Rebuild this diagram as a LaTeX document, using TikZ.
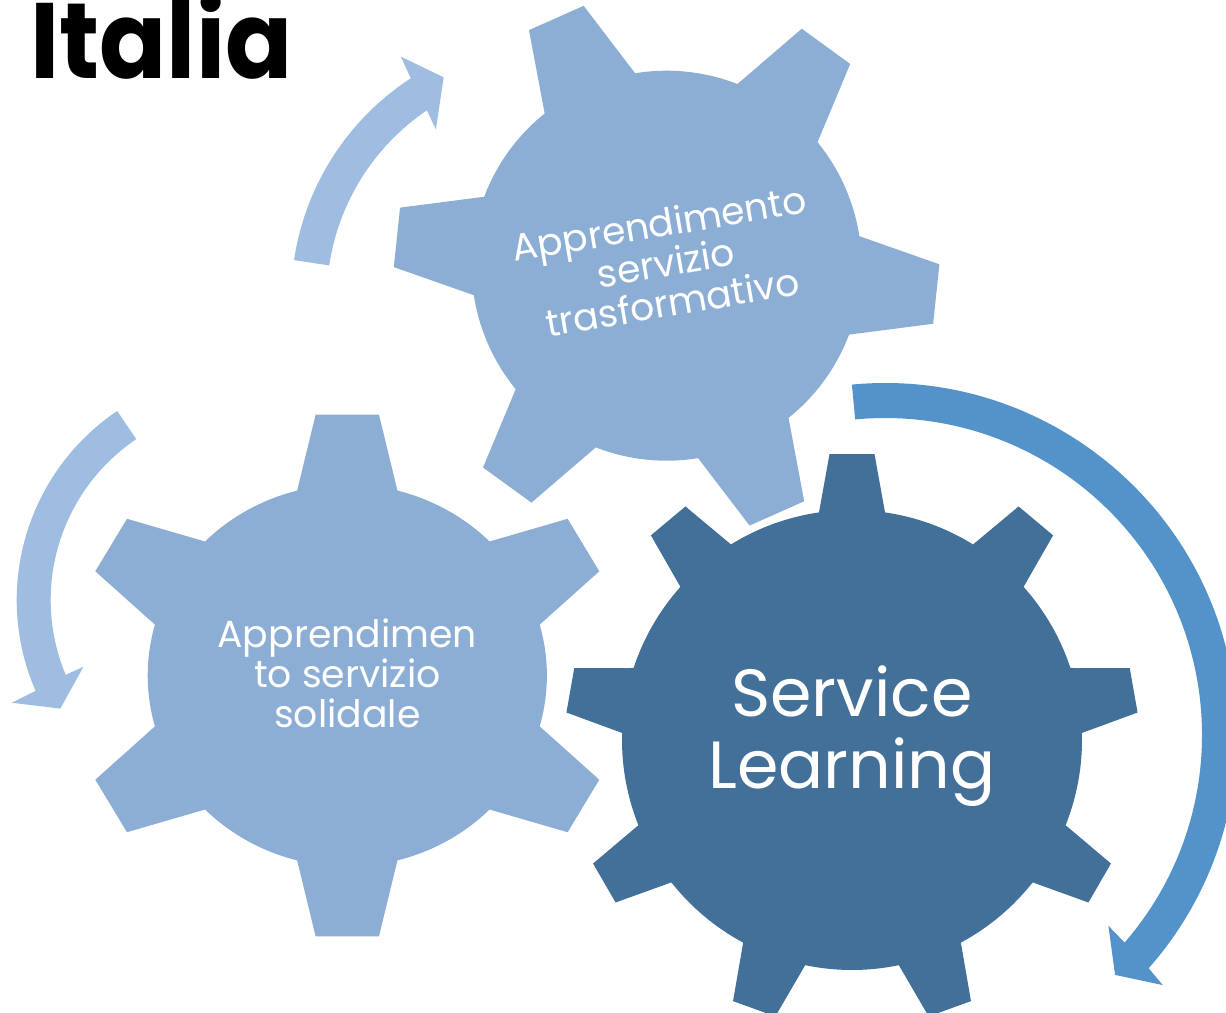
\documentclass[tikz,border=0pt]{standalone}
\usepackage{fontspec}
\setmainfont{Poppins}
\definecolor{gearlight}{HTML}{8CAED4}
\definecolor{geardark}{HTML}{427099}
\definecolor{arrowlight}{HTML}{9EBDE0}
\definecolor{arrowmid}{HTML}{5493CA}
\newcommand{\drawgear}[8]{% #1 scope options, #2 fill, #3 n, #4 theta0, #5 tip corner radius, #6 tip half width, #7 body radius, #8 base half width
  \pgfmathsetmacro\gstep{360/#3}%
  \pgfmathsetmacro\gbt{asin(#6/#5)}%
  \pgfmathsetmacro\gbb{asin(#8/#7)}%
  \pgfmathtruncatemacro\glast{#3-1}%
  \begin{scope}[#1]
    \fill[#2] ({#4-\gbb}:#7)
      \foreach \k in {0,...,\glast}{
        -- ({#4+\k*\gstep-\gbt}:#5) -- ({#4+\k*\gstep+\gbt}:#5) -- ({#4+\k*\gstep+\gbb}:#7)
        arc[start angle={#4+\k*\gstep+\gbb}, end angle={#4+(\k+1)*\gstep-\gbb}, radius=#7]
      } -- cycle;
  \end{scope}}
\begin{document}
\begin{tikzpicture}[x=0.02cm,y=0.02cm,
  geartext/.style={text=white, align=center, inner sep=0pt}]
\useasboundingbox (0,0) rectangle (1226,-1013);
\clip (0,0) rectangle (1226,-1013);
\fill[white] (0,0) rectangle (1226,-1013);

% gears
\drawgear{shift={(666.6,-265.7)}}{gearlight}{6}{-6}{272.8}{29.9}{195}{49.5}
\drawgear{shift={(347.3,-675.5)},xscale=1.045}{gearlight}{6}{30}{262.7}{30.3}{191}{48}
\drawgear{shift={(852,-740)}}{geardark}{9}{90}{286.9}{22.5}{230}{33}

% arrows
\begin{scope}[shift={(554.7,-299.1)}]
  \fill[arrowlight] (171.5:263.6) arc[start angle=171.5, end angle=123.1, radius=263.6]
    -- (122.4:287.2) -- (116.6:248) -- (125:207.2) -- (124.1:228)
    arc[start angle=124.1, end angle=171.5, radius=228] -- cycle;
\end{scope}
\begin{scope}[shift={(244.7,-600)}]
  \fill[arrowlight] (124:228) arc[start angle=124, end angle=203.5, radius=228]
    -- (203.8:254.6) -- (210.5:214) -- (202.5:174.6) -- (202.7:194)
    arc[start angle=202.7, end angle=124, radius=194] -- cycle;
\end{scope}
\begin{scope}[shift={(885,-735)}]
  \fill[arrowmid] (95.4:352) arc[start angle=95.4, end angle=-41.5, radius=352]
    -- (-42:373.7) -- (-46.2:332.4) -- (-40.5:293.8) -- (-40.9:317)
    arc[start angle=-40.9, end angle=95.4, radius=317] -- cycle;
\end{scope}

% texts
\node[anchor=base west, inner sep=0pt, font=\fontsize{61}{61}\selectfont\bfseries] (title) at (30,-79) {\scalebox{0.923}[1]{Italia}};
\node[geartext, rotate=9.6, font=\fontsize{21.5}{22.7}\selectfont] (trasf) at (665.6,-262.5) {Apprendimento\\servizio\\trasformativo};
\node[geartext, font=\fontsize{21.5}{22.7}\selectfont] (solid) at (347.3,-673) {Apprendimen\\to servizio\\solidale};
\node[geartext, font=\fontsize{38}{41}\selectfont] (sl) at (852,-736) {Service\\Learning};
\end{tikzpicture}
\end{document}
